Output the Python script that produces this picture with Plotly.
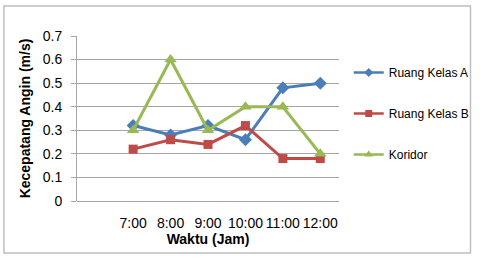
import plotly.graph_objects as go

categories = ["7:00", "8:00", "9:00", "10:00", "11:00", "12:00"]
ruang_a = [0.32, 0.28, 0.32, 0.26, 0.48, 0.50]
ruang_b = [0.22, 0.26, 0.24, 0.32, 0.18, 0.18]
koridor = [0.30, 0.60, 0.30, 0.40, 0.40, 0.20]
y_ticks = [0, 0.1, 0.2, 0.3, 0.4, 0.5, 0.6, 0.7]

series = [
    ("Ruang Kelas A", ruang_a, "#4a7ebb", "diamond", 10, 7),
    ("Ruang Kelas B", ruang_b, "#be4b48", "square", 9, 7),
    ("Koridor", koridor, "#98b954", "triangle-up", 11, 8),
]

fig = go.Figure()
for name, vals, color, sym, size, lsize in series:
    fig.add_trace(go.Scatter(
        x=categories, y=vals, name=name, mode="lines+markers",
        line=dict(color=color, width=3),
        marker=dict(symbol=sym, size=size, color=color),
        legendgroup=name, showlegend=False,
    ))
    # legend-only entry with the smaller legend glyph style
    fig.add_trace(go.Scatter(
        x=[None], y=[None], name=name, mode="lines+markers",
        line=dict(color=color, width=2.5),
        marker=dict(symbol=sym, size=lsize, color=color),
        legendgroup=name, showlegend=True,
    ))

W, H = 487, 259
L, R, T, B = 77, 141, 36, 58
pw, ph = W - L - R, H - T - B

def px_x(p):
    return (p - L) / pw

def px_y(p):
    return (H - B - p) / ph

fig.update_layout(
    width=W, height=H,
    margin=dict(l=L, r=R, t=T, b=B),
    paper_bgcolor="white", plot_bgcolor="white",
    font=dict(family="Liberation Sans, Arial, sans-serif", size=14, color="#000000"),
    showlegend=True,
    legend=dict(x=px_x(356), y=px_y(58), xanchor="left", yanchor="top",
                traceorder="grouped", tracegroupgap=22,
                font=dict(size=12), itemwidth=30, bgcolor="rgba(0,0,0,0)"),
    xaxis=dict(type="category", range=[-1.5, 5.5], showgrid=False,
               showline=False, ticks="outside", ticklen=9, tickcolor="rgba(0,0,0,0)",
               tickfont=dict(size=14),
               title=dict(text="<b>Waktu (Jam)</b>", font=dict(size=14), standoff=4),
               fixedrange=True),
    yaxis=dict(range=[0, 0.7], tickvals=y_ticks, ticktext=[f"{v:g}" for v in y_ticks],
               showgrid=True, gridcolor="#a6a6a6", gridwidth=1,
               showline=True, linecolor="#a6a6a6", linewidth=1,
               zeroline=True, zerolinecolor="#a6a6a6", zerolinewidth=1,
               ticks="outside", ticklen=5, tickcolor="#a6a6a6",
               ticklabelstandoff=6,
               tickfont=dict(size=14),
               title=dict(text="<b>Kecepatang Angin (m/s)</b>", font=dict(size=14), standoff=8),
               fixedrange=True),
    shapes=[dict(type="rect", xref="paper", yref="paper",
                 x0=px_x(2), x1=px_x(481), y0=px_y(253), y1=px_y(6),
                 line=dict(color="#bfbfbf", width=1.5), fillcolor="rgba(0,0,0,0)", layer="below")],
)

fig.write_html("out.html")
